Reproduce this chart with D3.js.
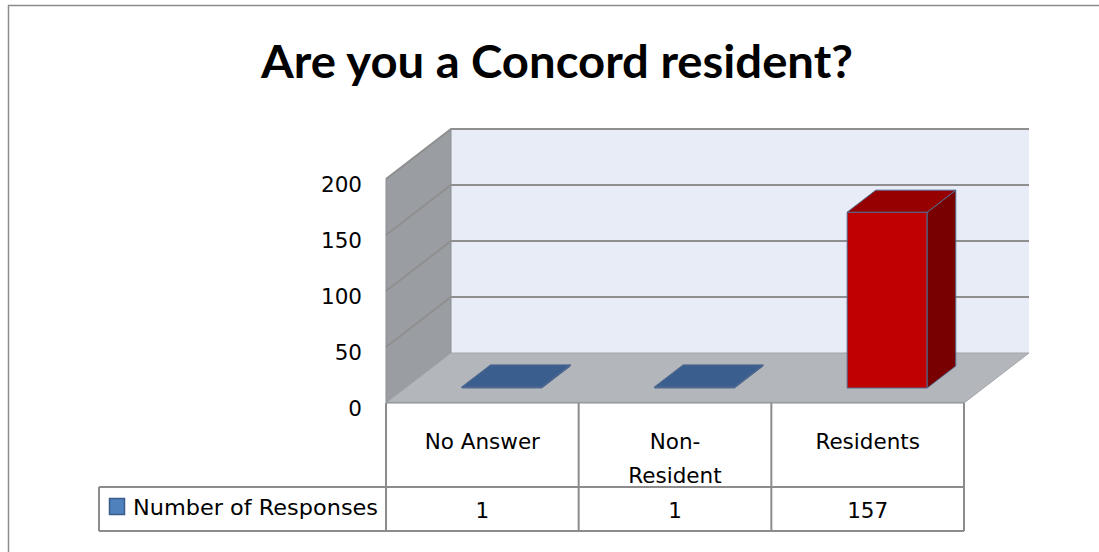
<!DOCTYPE html>
<html>
<head>
<meta charset="utf-8">
<script src="https://cdn.jsdelivr.net/npm/d3@7"></script>
<style>
  body { margin: 0; background: #fff; }
  svg { display: block; }
  text { font-family: "DejaVu Sans", "Open Sans", sans-serif; fill: #000; }
</style>
</head>
<body>
<svg width="1099" height="552"></svg>
<script>
// data
var categories = ["No Answer", "Non-Resident", "Residents"],
    headerLines = [["No Answer"], ["Non-", "Resident"], ["Residents"]],
    responses = [1, 1, 157],
    yTicks = [0, 50, 100, 150, 200],
    seriesName = "Number of Responses",
    title = "Are you a Concord resident?";

var svg = d3.select("svg"),
    plotLeft = 386, plotRight = 964,
    floorY = 403, topY = 179,
    depthX = 65, depthY = -50,
    barFront = 0.3, barBack = 0.74,
    barWidth = 80,
    tableTop = 403, rowTop = 487, rowBottom = 531,
    legendLeft = 99,
    fontSize = 21.5,
    barColor = {
      "No Answer": {front: "#4a75aa", top: "#3a5e8e", side: "#2c4a72"},
      "Non-Resident": {front: "#4a75aa", top: "#3a5e8e", side: "#2c4a72"},
      "Residents": {front: "#c00000", top: "#960000", side: "#780000"}
    };

var x = d3.scaleBand().domain(categories).range([plotLeft, plotRight]),
    y = d3.scaleLinear().domain([0, 200]).range([floorY, topY]);

// outer chart border
svg.append("rect")
    .attr("x", 8.5).attr("y", 5.5)
    .attr("width", 1200).attr("height", 700)
    .attr("fill", "none")
    .attr("stroke", "#8c8c8c")
    .attr("stroke-width", 1.5);

// title
svg.append("text")
    .attr("x", 557).attr("y", 78)
    .attr("text-anchor", "middle")
    .style("font-family", "Lato, 'Open Sans', sans-serif")
    .style("font-weight", "bold")
    .style("font-size", "46px")
    .attr("textLength", 592)
    .attr("lengthAdjust", "spacingAndGlyphs")
    .text(title);

function pt(px, py, d) { return [px + d * depthX, py + d * depthY]; }
function poly(points) { return points.map(function(p) { return p.join(","); }).join(" "); }

// back wall
svg.append("polygon")
    .attr("points", poly([pt(plotLeft, y(200), 1), pt(plotRight, y(200), 1),
                          pt(plotRight, y(0), 1), pt(plotLeft, y(0), 1)]))
    .attr("fill", "#e8ecf6");

// side wall
svg.append("polygon")
    .attr("points", poly([pt(plotLeft, y(0), 0), pt(plotLeft, y(200), 0),
                          pt(plotLeft, y(200), 1), pt(plotLeft, y(0), 1)]))
    .attr("fill", "#9a9da1")
    .attr("stroke", "#8a8d91")
    .attr("stroke-width", 1);

// gridlines
yTicks.filter(function(d) { return d > 0; }).forEach(function(v) {
  var a = pt(plotLeft, y(v), 0), b = pt(plotLeft, y(v), 1), c = pt(plotRight, y(v), 1);
  svg.append("polyline")
      .attr("points", poly([a, b, c]))
      .attr("fill", "none")
      .attr("stroke", "#8f8f8f")
      .attr("stroke-width", 2);
});

// floor
svg.append("polygon")
    .attr("points", poly([pt(plotLeft, y(0), 0), pt(plotRight, y(0), 0),
                          pt(plotRight, y(0), 1), pt(plotLeft, y(0), 1)]))
    .attr("fill", "#b3b6ba")
    .attr("stroke", "#a3a6aa")
    .attr("stroke-width", 1);
svg.append("line")
    .attr("x1", plotLeft).attr("x2", plotRight)
    .attr("y1", y(0) - 0.5).attr("y2", y(0) - 0.5)
    .attr("stroke", "#9a9da1").attr("stroke-width", 1.5);

// y axis labels
svg.append("g").selectAll("text")
    .data(yTicks)
    .enter().append("text")
    .attr("x", 362)
    .attr("y", function(d) { return y(d) + 5; })
    .attr("dy", "0.35em")
    .attr("text-anchor", "end")
    .attr("font-size", fontSize)
    .text(function(d) { return d; });

// bars
var bars = svg.append("g").selectAll("g")
    .data(categories.map(function(c, i) { return {cat: c, value: responses[i]}; }))
    .enter().append("g");

bars.each(function(d) {
  var g = d3.select(this),
      cx = x(d.cat) + x.bandwidth() / 2,
      x0 = cx - barWidth / 2 + barFront * depthX,
      x1 = x0 + barWidth,
      yb = y(0) + barFront * depthY,
      yt = y(d.value) + barFront * depthY,
      dd = barBack - barFront,
      col = barColor[d.cat];
  // front
  g.append("polygon")
      .attr("points", poly([[x0, yb], [x1, yb], [x1, yt], [x0, yt]]))
      .attr("fill", col.front);
  // side
  g.append("polygon")
      .attr("points", poly([[x1, yb], pt(x1, yb, dd), pt(x1, yt, dd), [x1, yt]]))
      .attr("fill", col.side);
  // top
  g.append("polygon")
      .attr("points", poly([[x0, yt], [x1, yt], pt(x1, yt, dd), pt(x0, yt, dd)]))
      .attr("fill", col.top);
  g.selectAll("polygon")
      .attr("stroke", "#52698f")
      .attr("stroke-width", 1)
      .attr("stroke-linejoin", "round");
});

// data table
var table = svg.append("g")
    .attr("fill", "none")
    .attr("stroke", "#8c8c8c")
    .attr("stroke-width", 2);

var edges = [plotLeft].concat(categories.map(function(c) { return x(c) + x.bandwidth(); }));
edges.forEach(function(ex) {
  table.append("line")
      .attr("x1", ex).attr("x2", ex)
      .attr("y1", tableTop).attr("y2", rowBottom);
});
table.append("line")
    .attr("x1", legendLeft).attr("x2", plotRight)
    .attr("y1", rowTop).attr("y2", rowTop);
table.append("line")
    .attr("x1", legendLeft).attr("x2", plotRight)
    .attr("y1", rowBottom).attr("y2", rowBottom);
table.append("line")
    .attr("x1", legendLeft).attr("x2", legendLeft)
    .attr("y1", rowTop).attr("y2", rowBottom);

// category headers
svg.append("g").selectAll("text")
    .data(categories.map(function(c, i) { return {cat: c, lines: headerLines[i]}; }))
    .enter().append("text")
    .attr("text-anchor", "middle")
    .attr("font-size", fontSize)
    .each(function(d) {
      var t = d3.select(this);
      d.lines.forEach(function(l, i) {
        t.append("tspan")
            .attr("x", x(d.cat) + x.bandwidth() / 2)
            .attr("y", 449 + i * 34)
            .text(l);
      });
    });

// values row
svg.append("g").selectAll("text")
    .data(responses)
    .enter().append("text")
    .attr("x", function(d, i) { return x(categories[i]) + x.bandwidth() / 2; })
    .attr("y", 518)
    .attr("text-anchor", "middle")
    .attr("font-size", fontSize)
    .text(function(d) { return d; });

// legend key
svg.append("rect")
    .attr("x", 109.5).attr("y", 498.5)
    .attr("width", 15).attr("height", 16)
    .attr("fill", "#4f81bd")
    .attr("stroke", "#385d8a")
    .attr("stroke-width", 1.5);
svg.append("text")
    .attr("x", 133).attr("y", 515)
    .attr("font-size", 22)
    .attr("textLength", 245)
    .attr("lengthAdjust", "spacingAndGlyphs")
    .text(seriesName);
</script>
</body>
</html>
